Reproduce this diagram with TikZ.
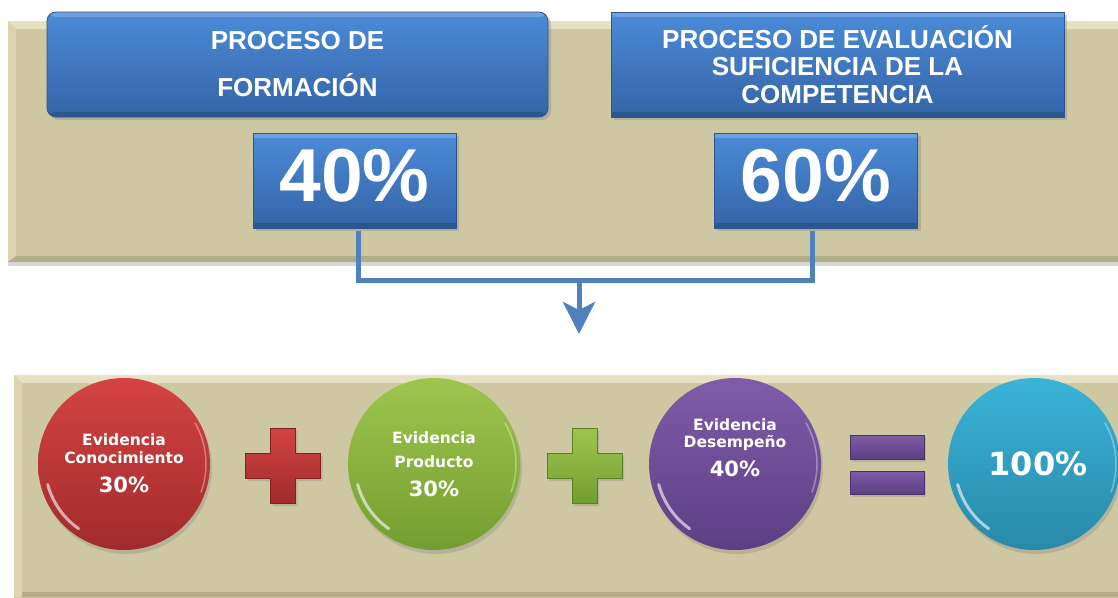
\documentclass[tikz,border=0pt]{standalone}
\usepackage{fontspec}
\setmainfont{Liberation Sans}
\newfontfamily\dvs{DejaVu Sans}
\usetikzlibrary{shadows,arrows.meta}
\definecolor{tanfill}{HTML}{CEC8A2}
\definecolor{tanlight}{HTML}{E6E1C0}
\definecolor{tanleft}{HTML}{DAD4B0}
\definecolor{tandark}{HTML}{B3AD8A}
\definecolor{blueTop}{HTML}{4B8BD8}
\definecolor{blueBot}{HTML}{3564A6}
\definecolor{blueEdge}{HTML}{2C5590}
\definecolor{connBlue}{HTML}{4F81BD}
\definecolor{redTop}{HTML}{D44343}
\definecolor{redBot}{HTML}{A12B2B}
\definecolor{greenTop}{HTML}{9FC54E}
\definecolor{greenBot}{HTML}{729E31}
\definecolor{purTop}{HTML}{7F5CA9}
\definecolor{purBot}{HTML}{5B3F84}
\definecolor{cyTop}{HTML}{39B4D7}
\definecolor{cyBot}{HTML}{2989A8}
\newcommand\plusmark[4]{%
  \path[top color=#3, bottom color=#4, draw=#4!80!black, line width=0.4pt,
        drop shadow={opacity=.3,shadow xshift=2pt,shadow yshift=-3pt}]
   (#1-12.5,#2+37.5) -- (#1+12.5,#2+37.5) -- (#1+12.5,#2+12.5) -- (#1+37.5,#2+12.5)
   -- (#1+37.5,#2-12.5) -- (#1+12.5,#2-12.5) -- (#1+12.5,#2-37.5) -- (#1-12.5,#2-37.5)
   -- (#1-12.5,#2-12.5) -- (#1-37.5,#2-12.5) -- (#1-37.5,#2+12.5) -- (#1-12.5,#2+12.5) -- cycle;}
\begin{document}
\begin{tikzpicture}[x=1pt,y=1pt,
 titlebox/.style={draw=blueEdge, line width=0.8pt, top color=blueTop, bottom color=blueBot,
   text=white, align=center, inner sep=0pt,
   drop shadow={opacity=0.35, shadow xshift=3pt, shadow yshift=-3pt},
   path picture={
     \fill[white, opacity=.2] (path picture bounding box.north west) rectangle ([yshift=-5pt]path picture bounding box.north east);
     \fill[black, opacity=.15] (path picture bounding box.south west) rectangle ([yshift=5pt]path picture bounding box.south east);}},
 pctbox/.style={titlebox, font=\bfseries\fontsize{75}{75}\selectfont, text depth=10pt,
   minimum width=203pt, minimum height=95pt},
 ball/.style={circle, minimum size=172pt, inner sep=0pt,
   drop shadow={opacity=.3, shadow xshift=2pt, shadow yshift=-4pt}},
 lbl/.style={anchor=base, text=white, font=\dvs\bfseries\fontsize{15.5}{18}\selectfont, inner sep=0pt},
 pct/.style={anchor=base, text=white, font=\dvs\bfseries\fontsize{21}{24}\selectfont, inner sep=0pt},
 conn/.style={draw=connBlue, line width=5pt},
 gloss/.style={white, opacity=.6, line width=3pt, line cap=round}]
\useasboundingbox (0,0) rectangle (1118,-597);
\fill[white] (0,0) rectangle (1118,-597);
% top panel
\path[fill=tanfill, drop shadow={opacity=.3, shadow xshift=0pt, shadow yshift=-4pt}] (8,-21) rectangle (1130,-262);
\fill[tanlight] (8,-21) -- (1118,-21) -- (1118,-29) -- (16,-29) -- cycle;
\fill[tanleft] (8,-21) -- (16,-29) -- (16,-256) -- (8,-262) -- cycle;
\fill[tandark] (8,-262) -- (16,-256) -- (1118,-256) -- (1118,-262) -- cycle;
% bottom panel
\path[fill=tanfill] (14,-375) rectangle (1130,-610);
\fill[tanlight] (14,-375) -- (1118,-375) -- (1118,-383) -- (22,-383) -- cycle;
\fill[tanleft] (14,-375) -- (22,-383) -- (22,-597) -- (14,-597) -- cycle;
\fill[tandark] (22,-592) rectangle (1118,-597);
% boxes
\node[titlebox, rounded corners=9pt, minimum width=501pt, minimum height=105pt,
  font=\bfseries\fontsize{26}{47}\selectfont] (fm) at (297.5,-64.5) {PROCESO DE\\FORMACIÓN};
\node[titlebox, minimum width=453pt, minimum height=105pt,
  font=\bfseries\fontsize{26}{27.5}\selectfont] (ev) at (837.5,-64.5)
  {PROCESO DE EVALUACIÓN\\SUFICIENCIA DE LA\\COMPETENCIA};
\node[pctbox] (p40) at (354.5,-180.5) {40\%};
\node[pctbox] (p60) at (816,-180.5) {60\%};
% connectors
\draw[conn] ([xshift=3.5pt,yshift=-3pt]p40.south) -- ++(0,-49) -| ([xshift=-4pt,yshift=-3pt]p60.south);
\coordinate (ar0) at (579,-280);
\coordinate (ar1) at (579,-334);
\draw[conn, -{Stealth[length=32pt,width=32pt,inset=8pt]}] (ar0) -- (ar1);
% circles
\node[ball, top color=redTop, bottom color=redBot] (c1) at (124,-464) {};
\node[ball, top color=greenTop, bottom color=greenBot] (c2) at (434,-464) {};
\node[ball, top color=purTop, bottom color=purBot] (c3) at (735,-464) {};
\node[ball, top color=cyTop, bottom color=cyBot] (c4) at (1034,-464) {};
\foreach \c in {c1,c2,c3,c4}{
  \draw[gloss] (\c.center) ++(195:79) arc[start angle=195, end angle=235, radius=79];
  \draw[white, opacity=.35, line width=1.5pt, line cap=round] (\c.center) ++(-20:82) arc[start angle=-20, end angle=30, radius=82];
}
% operators
\plusmark{283}{-465.5}{redTop}{redBot}
\plusmark{584.5}{-465.5}{greenTop}{greenBot}
\path[top color=purTop, bottom color=purBot, draw=purBot!80!black, line width=0.4pt,
  drop shadow={opacity=.3,shadow xshift=2pt,shadow yshift=-3pt}] (850,-435) rectangle (924,-459);
\path[top color=purTop, bottom color=purBot, draw=purBot!80!black, line width=0.4pt,
  drop shadow={opacity=.3,shadow xshift=2pt,shadow yshift=-3pt}] (850,-471) rectangle (924,-494);
% circle texts
\node[lbl] (t1a) at ([yshift=19pt]c1.center) {Evidencia};
\node[lbl] (t1b) at ([yshift=1pt]c1.center) {Conocimiento};
\node[pct] (t1c) at ([yshift=-28pt]c1.center) {30\%};
\node[lbl] (t2a) at ([yshift=21pt]c2.center) {Evidencia};
\node[lbl] (t2b) at ([yshift=-3pt]c2.center) {Producto};
\node[pct] (t2c) at ([yshift=-32pt]c2.center) {30\%};
\node[lbl] (t3a) at ([yshift=34pt]c3.center) {Evidencia};
\node[lbl] (t3b) at ([yshift=17pt]c3.center) {Desempeño};
\node[pct] (t3c) at ([yshift=-12pt]c3.center) {40\%};
\node[pct, font=\dvs\bfseries\fontsize{32}{36}\selectfont] (t4) at ([xshift=4pt,yshift=-11pt]c4.center) {100\%};
\end{tikzpicture}
\end{document}
